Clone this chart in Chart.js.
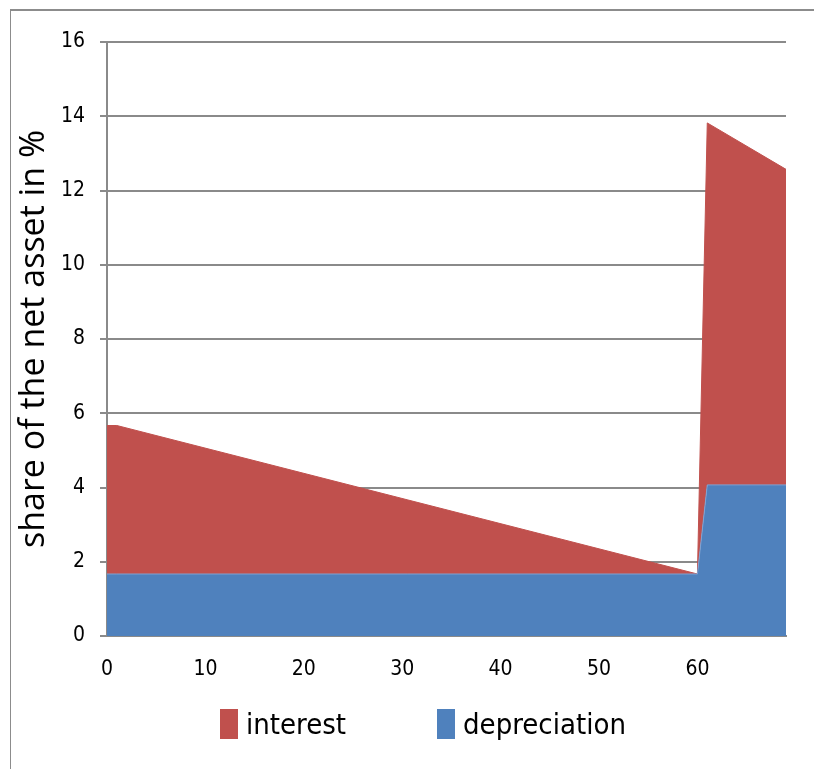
<!DOCTYPE html>
<html>
<head>
  <title>Share of the net asset</title>
  <script src="https://cdn.jsdelivr.net/npm/chart.js"></script>
  <style>
    html, body {
      margin: 0;
      padding: 0;
      background: #fff;
      overflow: hidden;
      width: 814px;
      height: 769px;
      font-family: 'DejaVu Sans Condensed', 'DejaVu Sans', sans-serif;
    }
    .frame {
      position: absolute;
      left: 10px;
      top: 9px;
      width: 1000px;
      height: 1000px;
      border: 1px solid #8c8c8c;
      border-top-width: 2px;
    }
    .wrap {
      position: absolute;
      left: 0;
      top: 0;
      width: 814px;
      height: 769px;
    }
    .legend {
      position: absolute;
      top: 707px;
      left: 220px;
      display: flex;
      align-items: center;
      font-size: 29px;
      color: #000;
      white-space: nowrap;
    }
    .legend .item {
      display: flex;
      align-items: center;
    }
    .legend .swatch {
      width: 18px;
      height: 30px;
      margin-right: 8px;
    }
    .legend .item + .item {
      margin-left: 91px;
    }
  </style>
</head>
<body>
  <div class="frame"></div>
  <div class="wrap">
    <canvas id="assetChart" width="814" height="769"></canvas>
    <div class="legend" id="legend"></div>
  </div>

  <script>
    // years (x values of the kinks in the areas)
    const years = [0, 1, 60, 61, 69];
    // depreciation share in %
    const depreciation = [1.67, 1.67, 1.67, 4.07, 4.07];
    // interest share in % (stacked on top of depreciation)
    const interest = [4.0, 4.0, 0.0, 9.75, 8.5];

    const yTicks = [0, 2, 4, 6, 8, 10, 12, 14, 16];
    const xTicks = [0, 10, 20, 30, 40, 50, 60];

    const red = '#c0504d';
    const blue = '#4f81bd';
    const gridColor = '#8a8a8a';
    const font = "'DejaVu Sans Condensed', 'DejaVu Sans', sans-serif";

    const toPoints = vals => years.map((x, i) => ({ x: x, y: vals[i] }));

    const chart = new Chart(document.getElementById('assetChart'), {
      type: 'line',
      data: {
        datasets: [
          {
            label: 'depreciation',
            data: toPoints(depreciation),
            backgroundColor: blue,
            borderColor: '#7fa2d2',
            borderWidth: 1,
            pointRadius: 0,
            tension: 0,
            fill: 'origin'
          },
          {
            label: 'interest',
            data: toPoints(interest),
            backgroundColor: red,
            borderColor: red,
            borderWidth: 1,
            pointRadius: 0,
            tension: 0,
            fill: '-1'
          }
        ]
      },
      options: {
        responsive: false,
        animation: false,
        layout: {
          padding: { left: 0, right: 28, top: 42, bottom: 73 }
        },
        plugins: {
          legend: { display: false },
          tooltip: { enabled: false }
        },
        scales: {
          x: {
            type: 'linear',
            min: 0,
            max: 69,
            afterBuildTicks: scale => {
              scale.ticks = xTicks.map(v => ({ value: v }));
            },
            afterFit: scale => { scale.height = 60; },
            grid: { display: false, drawTicks: false },
            border: { display: true, color: gridColor, width: 2 },
            ticks: {
              padding: 21,
              color: '#000',
              font: { family: font, size: 21 }
            }
          },
          y: {
            stacked: true,
            min: 0,
            max: 16,
            afterBuildTicks: scale => {
              scale.ticks = yTicks.map(v => ({ value: v }));
            },
            afterFit: scale => { scale.width = 107; },
            grid: {
              color: gridColor,
              lineWidth: 2,
              tickLength: 7
            },
            border: { display: true, color: gridColor, width: 2 },
            ticks: {
              padding: 15,
              color: '#000',
              font: { family: font, size: 21 }
            },
            title: {
              display: true,
              text: 'share of the net asset in %',
              color: '#000',
              padding: { top: 14, bottom: 0 },
              font: { family: "'Open Sans', 'DejaVu Sans', sans-serif", size: 34 }
            }
          }
        }
      }
    });

    // legend: interest first, then depreciation
    const legend = document.getElementById('legend');
    chart.data.datasets.slice().reverse().forEach(ds => {
      const item = document.createElement('div');
      item.className = 'item';
      const sw = document.createElement('span');
      sw.className = 'swatch';
      sw.style.background = ds.backgroundColor;
      const label = document.createElement('span');
      label.textContent = ds.label;
      item.appendChild(sw);
      item.appendChild(label);
      legend.appendChild(item);
    });
  </script>
</body>
</html>
